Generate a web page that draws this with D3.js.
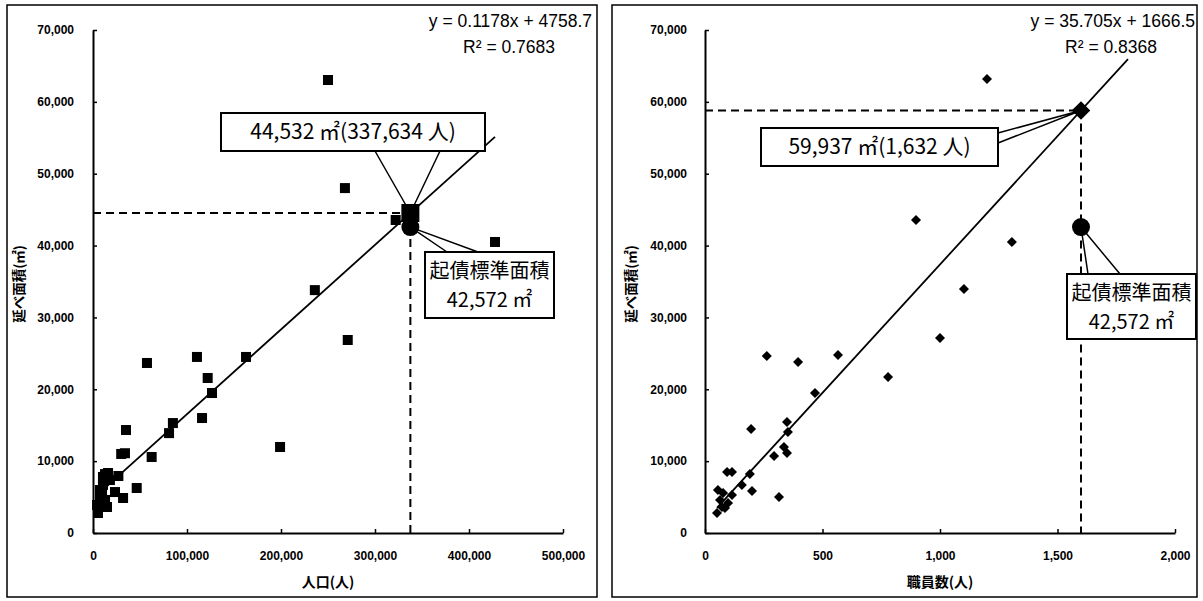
<!DOCTYPE html>
<html>
<head>
<meta charset="utf-8">
<script src="https://cdn.jsdelivr.net/npm/d3@7"></script>
<style>
  body { margin: 0; background: #fff; }
  svg { display: block; }
  text { font-family: "Liberation Sans", Arial, "Noto Sans CJK JP", sans-serif; fill: #000; }
  .jp { font-family: "Noto Sans CJK JP", "Liberation Sans", sans-serif; }
</style>
</head>
<body>
<svg width="1203" height="601"></svg>
<script>
// ---- data
// left panel: population vs floor area
var popX = [5300, 4300, 7400, 9600, 7400, 10600, 14900, 12800, 18000, 10600, 12800, 16000,
  27000, 23400, 32000, 46500, 62400, 30000, 34000, 35100, 80900, 85000, 116000, 199000,
  126600, 122000, 110600, 57400, 162800, 236000, 271000, 322000, 268000, 250000, 427660];
var popArea = [2780, 3900, 4600, 5570, 5980, 6680, 3620, 4600, 7370, 7800, 8200, 8350,
  7930, 5700, 4870, 6260, 10580, 11000, 11100, 14330, 13900, 15300, 16000, 11970,
  19480, 21570, 24500, 23660, 24500, 33800, 26860, 43560, 48000, 63040, 40500];
// right panel: staff vs floor area
var staffX = [51, 64, 77, 55, 98, 85, 115, 72, 94, 115, 157, 191, 200, 196, 294, 315, 336,
  349, 353, 349, 468, 263, 396, 566, 779, 1000, 1102, 898, 1306, 1200];
var staffArea = [2780, 4600, 5570, 5980, 4170, 3480, 5290, 3620, 8490, 8490, 6680, 8210, 5845,
  14470, 10720, 5010, 11970, 11130, 14050, 15450, 19480, 24630, 23800, 24770, 21700, 27140,
  33950, 43560, 40500, 63180];

var yTicks = [0, 10000, 20000, 30000, 40000, 50000, 60000, 70000];
var popTicks = [0, 100000, 200000, 300000, 400000, 500000];
var staffTicks = [0, 500, 1000, 1500, 2000];

// regression (slope, intercept) and labels
var popFit = [0.1178, 4758.7];
var staffFit = [35.705, 1666.5];
var popFitText = ["y = 0.1178x + 4758.7", "R² = 0.7683"];
var staffFitText = ["y = 35.705x + 1666.5", "R² = 0.8368"];

// estimate points (as plotted) and the standard area
var popEstimate = [337634, 44532];
var staffEstimate = [1600, 58800];
var standardArea = 42572;
var popEstimateLabel = "44,532 ㎡(337,634 人)";
var staffEstimateLabel = "59,937 ㎡(1,632 人)";
var standardLabel = ["起債標準面積", "42,572 ㎡"];

var svg = d3.select("svg");
var fmt = d3.format(",");

function panel(cfg) {
  var g = svg.append("g");

  // frame
  g.append("rect")
    .attr("x", cfg.frame[0]).attr("y", cfg.frame[1])
    .attr("width", cfg.frame[2]).attr("height", cfg.frame[3])
    .attr("fill", "none").attr("stroke", "#000").attr("stroke-width", 1.5);

  var x = d3.scaleLinear().domain(cfg.xDomain).range(cfg.xRange);
  var y = d3.scaleLinear().domain([0, 70000]).range([533, 30]);

  // axes
  var ya = g.append("g").attr("transform", "translate(" + cfg.xRange[0] + ",0)")
    .call(d3.axisLeft(y).tickValues(yTicks).tickFormat(fmt).tickSizeInner(-4).tickSizeOuter(0).tickPadding(0));
  ya.select(".domain").attr("stroke-width", 2);
  ya.selectAll(".tick line").attr("stroke-width", 1.5);
  ya.selectAll(".tick text").attr("x", cfg.yLabelRight - cfg.xRange[0])
    .style("font-size", "12px").style("font-weight", "bold").attr("font-family", null);

  var xa = g.append("g").attr("transform", "translate(0,533)")
    .call(d3.axisBottom(x).tickValues(cfg.xTicks).tickFormat(fmt).tickSizeInner(-4).tickSizeOuter(0).tickPadding(0));
  xa.select(".domain").attr("stroke-width", 2);
  xa.selectAll(".tick line").attr("stroke-width", 1.5);
  xa.selectAll(".tick text").attr("y", 18)
    .style("font-size", "12px").style("font-weight", "bold").attr("font-family", null);

  // axis titles
  g.append("text").attr("class", "jp")
    .attr("transform", "translate(" + cfg.yTitleX + ",284) rotate(-90)")
    .attr("text-anchor", "middle").style("font-size", "13.5px").style("font-weight", "bold")
    .text("延べ面積(㎡)");
  g.append("text").attr("class", "jp")
    .attr("x", cfg.xTitleX).attr("y", 587)
    .attr("text-anchor", "middle").style("font-size", "14px").style("font-weight", "bold")
    .text(cfg.xTitle);

  // points
  var pts = cfg.xs.map(function(v, i) { return [v, cfg.ys[i]]; });
  if (cfg.shape == "square") {
    g.append("g").selectAll("rect").data(pts).enter().append("rect")
      .attr("x", function(d) { return x(d[0]) - 5; })
      .attr("y", function(d) { return y(d[1]) - 5; })
      .attr("width", 10).attr("height", 10).attr("fill", "#000");
  } else {
    g.append("g").selectAll("path").data(pts).enter().append("path")
      .attr("d", d3.symbol().type(d3.symbolDiamond2).size(64))
      .attr("transform", function(d) { return "translate(" + x(d[0]) + "," + y(d[1]) + ")"; })
      .attr("fill", "#000");
  }

  // trend line
  var fit = function(v) { return cfg.fit[0] * v + cfg.fit[1]; };
  g.append("line")
    .attr("x1", x(cfg.trendFrom)).attr("y1", y(fit(cfg.trendFrom)))
    .attr("x2", x(cfg.trendTo)).attr("y2", y(fit(cfg.trendTo)))
    .attr("stroke", "#000").attr("stroke-width", 1.8);

  // dashed guides
  var ex = x(cfg.est[0]), ey = y(cfg.est[1]);
  g.append("path")
    .attr("d", "M" + cfg.xRange[0] + "," + ey + "H" + ex + "M" + ex + "," + ey + "V533")
    .attr("fill", "none").attr("stroke", "#000").attr("stroke-width", 2)
    .attr("stroke-dasharray", "8,5");

  // regression text
  g.append("text").attr("x", cfg.eqRight[0]).attr("y", 27).attr("text-anchor", "end")
    .style("font-size", "17.5px").text(cfg.fitText[0]);
  g.append("text").attr("x", cfg.eqRight[1]).attr("y", 53).attr("text-anchor", "end")
    .style("font-size", "17.5px").text(cfg.fitText[1]);

  // callouts
  function callout(tip, base, box, lines, fs) {
    g.append("path")
      .attr("d", "M" + base[0][0] + "," + base[0][1] + "L" + tip[0] + "," + tip[1] + "L" + base[1][0] + "," + base[1][1])
      .attr("fill", "#fff").attr("stroke", "#000").attr("stroke-width", 1.5);
    g.append("rect").attr("x", box[0]).attr("y", box[1]).attr("width", box[2]).attr("height", box[3])
      .attr("fill", "#fff").attr("stroke", "#000").attr("stroke-width", 2);
    lines.forEach(function(t, i) {
      g.append("text").attr("class", "jp")
        .attr("x", box[0] + box[2] / 2)
        .attr("y", box[1] + (lines.length == 1 ? box[3] / 2 + 7 : 26 + i * 29))
        .attr("text-anchor", "middle").style("font-size", fs + "px").text(t);
    });
  }

  var cy = y(standardArea);
  callout([ex, ey], cfg.estBase, cfg.estBox, [cfg.estLabel], 21);
  callout([ex, cy], cfg.stdBase, cfg.stdBox, standardLabel, 20);

  // highlighted markers
  g.append("circle").attr("cx", ex).attr("cy", cy).attr("r", 9).attr("fill", "#000");
  if (cfg.shape == "square") {
    g.append("rect").attr("x", ex - 9).attr("y", ey - 9).attr("width", 18).attr("height", 18).attr("fill", "#000");
  } else {
    g.append("path").attr("d", d3.symbol().type(d3.symbolDiamond2).size(220))
      .attr("transform", "translate(" + ex + "," + ey + ")").attr("fill", "#000");
  }
}

panel({
  frame: [7, 5, 590, 592],
  xDomain: [0, 500000], xRange: [93, 563], xTicks: popTicks,
  yLabelRight: 74, yTitleX: 24, xTitleX: 328, xTitle: "人口(人)",
  xs: popX, ys: popArea, shape: "square",
  fit: popFit, trendFrom: d3.min(popX), trendTo: d3.max(popX),
  fitText: popFitText, eqRight: [592, 555],
  est: popEstimate, estLabel: popEstimateLabel,
  estBox: [221, 113, 264, 38], estBase: [[375, 151], [440, 151]],
  stdBox: [425, 252, 129, 66], stdBase: [[447, 252], [478, 252]]
});

panel({
  frame: [612, 5, 585, 592],
  xDomain: [0, 2000], xRange: [705, 1175], xTicks: staffTicks,
  yLabelRight: 687, yTitleX: 636, xTitleX: 940, xTitle: "職員数(人)",
  xs: staffX, ys: staffArea, shape: "diamond",
  fit: staffFit, trendFrom: d3.min(staffX), trendTo: 1800,
  fitText: staffFitText, eqRight: [1195, 1157],
  est: staffEstimate, estLabel: staffEstimateLabel,
  estBox: [761, 128, 237, 38], estBase: [[998, 133], [998, 143]],
  stdBox: [1067, 274, 129, 65], stdBase: [[1088, 274], [1120, 274]]
});
</script>
</body>
</html>
